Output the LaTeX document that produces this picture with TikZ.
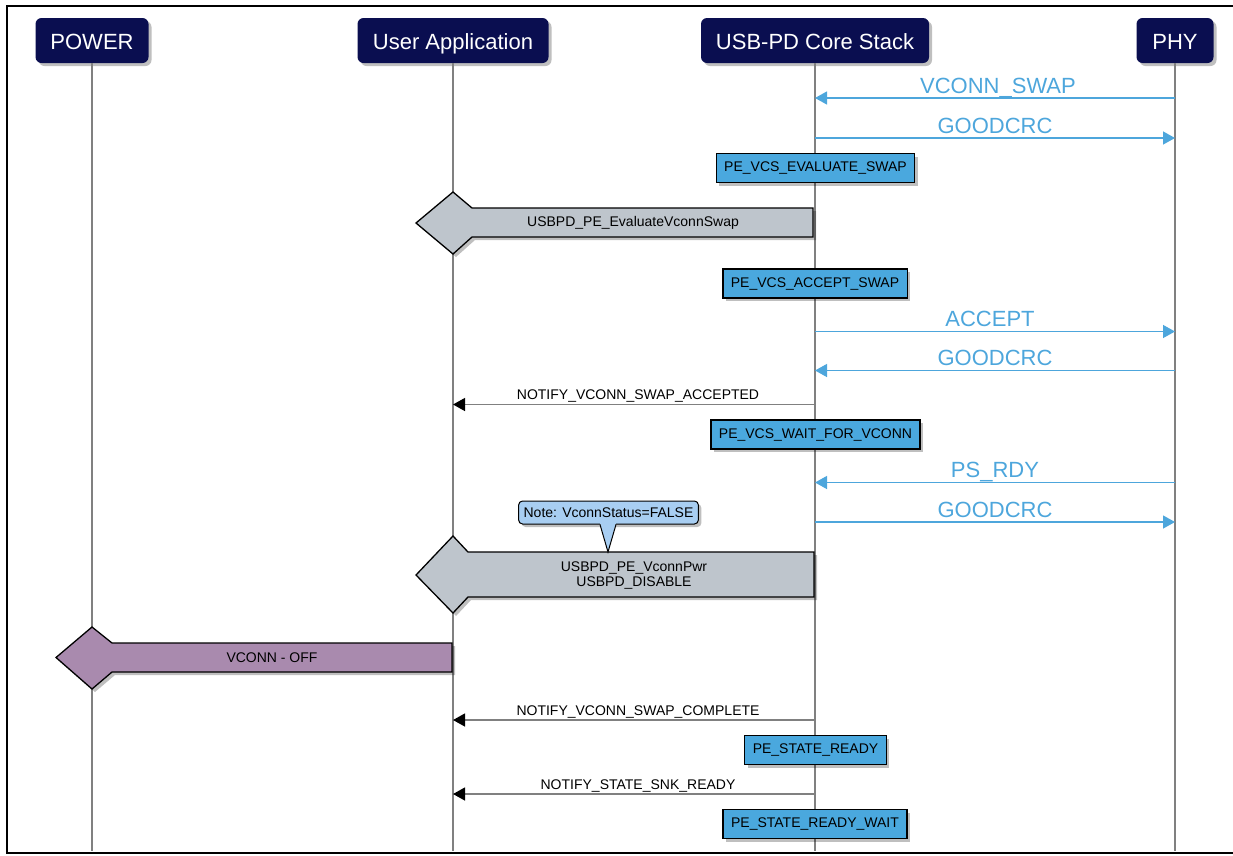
\documentclass[tikz,border=0pt]{standalone}
\usepackage{fontspec}
\setmainfont{Liberation Sans}
\usetikzlibrary{arrows.meta,shadows,calc}
\definecolor{navy}{RGB}{10,14,80}
\definecolor{stateblue}{RGB}{74,168,222}
\definecolor{msgblue}{RGB}{77,166,220}
\definecolor{fatgray}{RGB}{190,197,204}
\definecolor{fatpurple}{RGB}{169,138,174}
\definecolor{notefill}{RGB}{168,206,242}
\definecolor{lifegray}{RGB}{128,128,128}
\tikzset{
 shad/.style={drop shadow={shadow xshift=3pt, shadow yshift=-3pt, fill=black, opacity=.25}},
 actor/.style={rounded corners=6pt, fill=navy, text=white, font=\fontsize{22}{26}\selectfont, minimum height=45pt, inner sep=0pt, text height=18pt, text depth=0pt, shad},
 stateb/.style={fill=stateblue, draw=black, line width=1.3pt, font=\fontsize{14}{16}\selectfont, minimum height=29pt, inner xsep=8pt, inner ysep=0pt, shad},
 lifeline/.style={draw=lifegray, line width=2pt},
 bluemsg/.style={draw=msgblue, line width=1.3pt, -{Triangle[length=12pt,width=13pt]}},
 bluelbl/.style={text=msgblue, font=\fontsize{22}{26}\selectfont, anchor=base, yshift=5pt, inner sep=0pt},
 blkmsg/.style={draw=lifegray, line width=1.3pt, -{Triangle[length=12pt,width=13pt,color=black,fill=black]}},
 blklbl/.style={text=black, font=\fontsize{14}{16}\selectfont, anchor=base, yshift=5pt, xshift=4pt, inner sep=0pt},
 fat/.style={draw=black, line width=1.3pt, shad},
 fattxt/.style={font=\fontsize{14}{15}\selectfont, align=center, inner sep=0pt},
 notebox/.style={rounded corners=4pt, fill=notefill, draw=black, line width=1pt, font=\fontsize{14}{16}\selectfont, inner xsep=5pt, inner ysep=0pt, minimum height=23pt, shad},
 frameline/.style={line width=2.5pt, draw=black}
}
\begin{document}
\begin{tikzpicture}[x=1pt,y=-1pt]
\useasboundingbox (0,0) rectangle (1233,855);
% frame
\draw[frameline] (1234,6) -- (7,6) -- (7,853) -- (1234,853);
% actors
\node[actor, minimum width=113pt] (power) at (92,40.5) {POWER};
\node[actor, minimum width=191pt] (user) at (453,40.5) {User Application};
\node[actor, minimum width=228pt] (core) at (815,40.5) {USB-PD Core Stack};
\node[actor, minimum width=77pt] (phy) at (1175,40.5) {PHY};
\coordinate (powerEnd) at (92,851);
\coordinate (userEnd) at (453,851);
\coordinate (coreEnd) at (815,851);
\coordinate (phyEnd) at (1175,851);
% lifelines
\draw[lifeline] (power.south) -- (powerEnd);
\draw[lifeline] (user.south) -- (userEnd);
\draw[lifeline] (core.south) -- (coreEnd);
\draw[lifeline] (phy.south) -- (phyEnd);
% messages PHY <-> core
\draw[bluemsg] (phy |- 0,98) -- node[bluelbl, xshift=3pt]{VCONN\_SWAP} (core |- 0,98);
\draw[bluemsg] (core |- 0,138) -- node[bluelbl]{GOODCRC} (phy |- 0,138);
\node[stateb] (s1) at (815.5,168) {PE\_VCS\_EVALUATE\_SWAP};
% fat arrow 1
\draw[fat, fill=fatgray] (813,208) -- (472,208) -- (453,192) -- (416,223) -- (453,254) -- (472,237) -- (813,237) -- cycle;
\node[fattxt] (f1) at (633,223) {USBPD\_PE\_EvaluateVconnSwap};
\node[stateb] (s2) at (815,283.5) {PE\_VCS\_ACCEPT\_SWAP};
\draw[bluemsg] (core |- 0,331.5) -- node[bluelbl, xshift=-5pt]{ACCEPT} (phy |- 0,331.5);
\draw[bluemsg] (phy |- 0,370.5) -- node[bluelbl]{GOODCRC} (core |- 0,370.5);
\draw[blkmsg] (core |- 0,404.5) -- node[blklbl]{NOTIFY\_VCONN\_SWAP\_ACCEPTED} (user |- 0,404.5);
\node[stateb] (s3) at (815.5,434.5) {PE\_VCS\_WAIT\_FOR\_VCONN};
\draw[bluemsg] (phy |- 0,482.5) -- node[bluelbl]{PS\_RDY} (core |- 0,482.5);
\draw[bluemsg] (core |- 0,522) -- node[bluelbl]{GOODCRC} (phy |- 0,522);
% fat arrow 2
\draw[fat, fill=fatgray] (814,552) -- (468,552) -- (453,536) -- (416,575) -- (453,613) -- (468,597) -- (814,597) -- cycle;
\node[fattxt] (f2) at (634,575) {USBPD\_PE\_VconnPwr\\USBPD\_DISABLE};
% note
\node[notebox] (note) at (608.5,512.5) {Note: VconnStatus=FALSE};
\fill[notefill] ($(note.south)+(-8.5,-1.6)$) -- (608,552) -- ($(note.south)+(7.5,-1.6)$) -- cycle;
\draw[line width=1pt] ($(note.south)+(-8.5,0)$) -- (608,552) -- ($(note.south)+(7.5,0)$);
% fat arrow 3
\draw[fat, fill=fatpurple] (452,643) -- (112,643) -- (92,627) -- (56,657.5) -- (92,689) -- (112,672) -- (452,672) -- cycle;
\node[fattxt] (f3) at (272,658) {VCONN - OFF};
\draw[blkmsg] (core |- 0,720) -- node[blklbl]{NOTIFY\_VCONN\_SWAP\_COMPLETE} (user |- 0,720);
\node[stateb] (s4) at (815.5,750) {PE\_STATE\_READY};
\draw[blkmsg] (core |- 0,794) -- node[blklbl]{NOTIFY\_STATE\_SNK\_READY} (user |- 0,794);
\node[stateb] (s5) at (815,824) {PE\_STATE\_READY\_WAIT};
\end{tikzpicture}
\end{document}
